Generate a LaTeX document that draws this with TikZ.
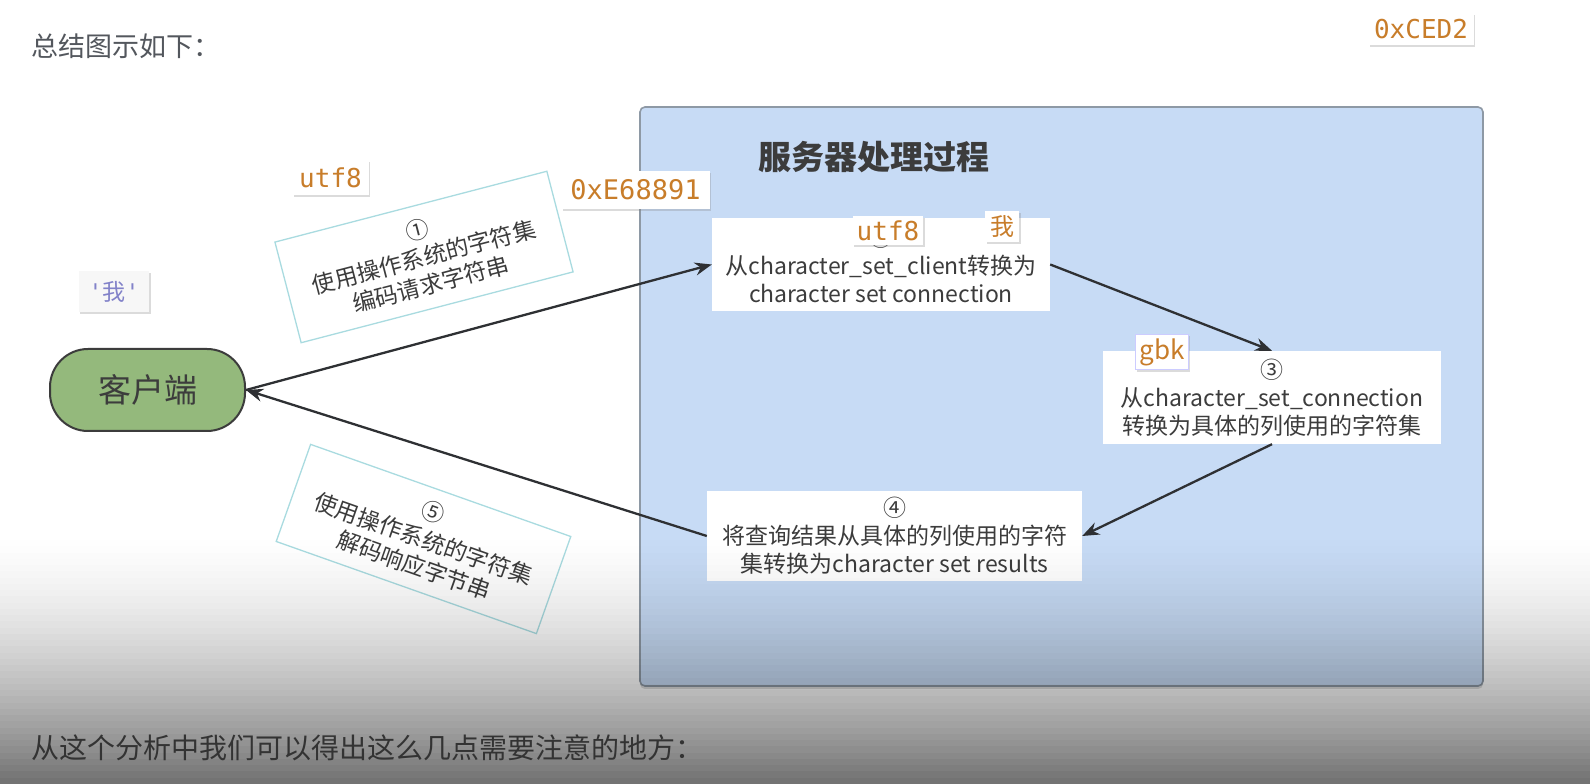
\documentclass[tikz,border=0pt]{standalone}
\usepackage{fontspec}
\setmainfont{Noto Sans CJK SC}
\newfontfamily\codefont{DejaVu Sans Mono}
\usetikzlibrary{arrows.meta, positioning, shadows}
\definecolor{serverblue}{HTML}{C7DBF5}
\definecolor{serverline}{HTML}{8E99A5}
\definecolor{clientgreen}{HTML}{94B97C}
\definecolor{textgray}{HTML}{3C3C3C}
\definecolor{titlegray}{HTML}{53575D}
\definecolor{tagorange}{HTML}{C87D2A}
\definecolor{notecyan}{HTML}{A9DBE0}
\definecolor{arrowgray}{HTML}{2E3033}
\tikzset{
  stepbox/.style={draw=none, fill=white, rectangle, align=center, inner sep=0pt, text=textgray, font=\fontsize{23}{28}\selectfont},
  notebox/.style={draw=notecyan, fill=white, line width=1.3pt, rectangle, align=center, inner sep=0pt, text=textgray, font=\fontsize{23}{28}\selectfont},
  tagbox/.style={fill=white, rectangle, inner sep=7pt, text=tagorange, font=\codefont\fontsize{26}{26}\selectfont, drop shadow={opacity=0.28, shadow xshift=1.5pt, shadow yshift=-2pt}},
  arrow/.style={-{Stealth[length=17pt, width=13pt]}, line width=2.3pt, draw=arrowgray}
}

\begin{document}
\begin{tikzpicture}[x=1pt, y=1pt]
\useasboundingbox (0,0) rectangle (1590,784);
\fill[white] (0,0) rectangle (1590,784);

\node[anchor=west, text=titlegray, font=\fontsize{27}{27}\selectfont] (title) at (28,738) {总结图示如下：};

% server side
\node[draw=serverline, fill=serverblue, line width=1.6pt, rounded corners=5pt, minimum width=843pt, minimum height=579pt, drop shadow={opacity=0.25, shadow xshift=0pt, shadow yshift=-3pt}] (server) at (1061.5,387.5) {};
\node[font=\fontsize{33}{33}\selectfont\bfseries, text=textgray] (servertitle) at (874,627) {服务器处理过程};

\node[stepbox, minimum width=338pt, minimum height=93pt] (step1) at (881,519.5) {①\\从character\_set\_client转换为\\character set connection};
\node[stepbox, minimum width=338pt, minimum height=93pt] (step3) at (1272,386.5) {③\\从character\_set\_connection\\转换为具体的列使用的字符集};
\node[stepbox, minimum width=375pt, minimum height=90pt] (step4) at (894.5,248) {④\\将查询结果从具体的列使用的字符\\集转换为character set results};

% client side
\node[draw=textgray, fill=clientgreen, line width=2pt, rounded corners=38pt, minimum width=195pt, minimum height=82pt, text=textgray, font=\fontsize{33}{33}\selectfont] (client) at (147.5,394) {客户端};

\node[notebox, minimum width=281pt, minimum height=104pt, rotate=14.6] (encode) at (424,527) {①\\使用操作系统的字符集\\编码请求字符串};
\node[notebox, minimum width=276pt, minimum height=103pt, rotate=-19.5] (decode) at (423.5,245) {⑤\\使用操作系统的字符集\\解码响应字节串};

\draw[arrow] (client.east) -- (step1.west);
\draw[arrow] (step1.east) -- (step3.north);
\draw[arrow] (step3.south) -- (step4.east);
\draw[arrow] (step4.west) -- (client.east);

% code tags
\node[tagbox] (tagutf) at (330.5,606.5) {utf8};
\node[tagbox, inner sep=9pt, font=\codefont\fontsize{27}{27}\selectfont] (tagbytes) at (635.5,594) {0xE68891};
\node[tagbox, inner sep=4pt] (tagclient) at (888,553.5) {utf8};
\node[tagbox, inner sep=5pt, font=\fontsize{24}{24}\selectfont] (tagchar) at (1002,557.5) {我};
\node[tagbox, inner sep=4pt, draw=blue!20, line width=1.5pt, font=\fontsize{26}{26}\selectfont] (taggbk) at (1162,432) {gbk};
\node[tagbox, inner sep=6pt] (taggbkbytes) at (1421,755) {0xCED2};
\node[tagbox, fill=gray!6, inner sep=10pt, text=blue!40!gray!70, font=\fontsize{23}{23}\selectfont] (tagquote) at (114,492.5) {{\codefont\char"27}我{\codefont\char"27}};

% darker band at the bottom
\foreach \i in {1,...,40} {
  \fill[black, opacity={0.55*(\i/40)^1.6}] (0,{250-6.25*\i}) rectangle (1590,{250-6.25*(\i-1)});
}

\node[anchor=west, text=black!80, font=\fontsize{28}{28}\selectfont] (summary) at (28,36) {从这个分析中我们可以得出这么几点需要注意的地方：};

\end{tikzpicture}
\end{document}
